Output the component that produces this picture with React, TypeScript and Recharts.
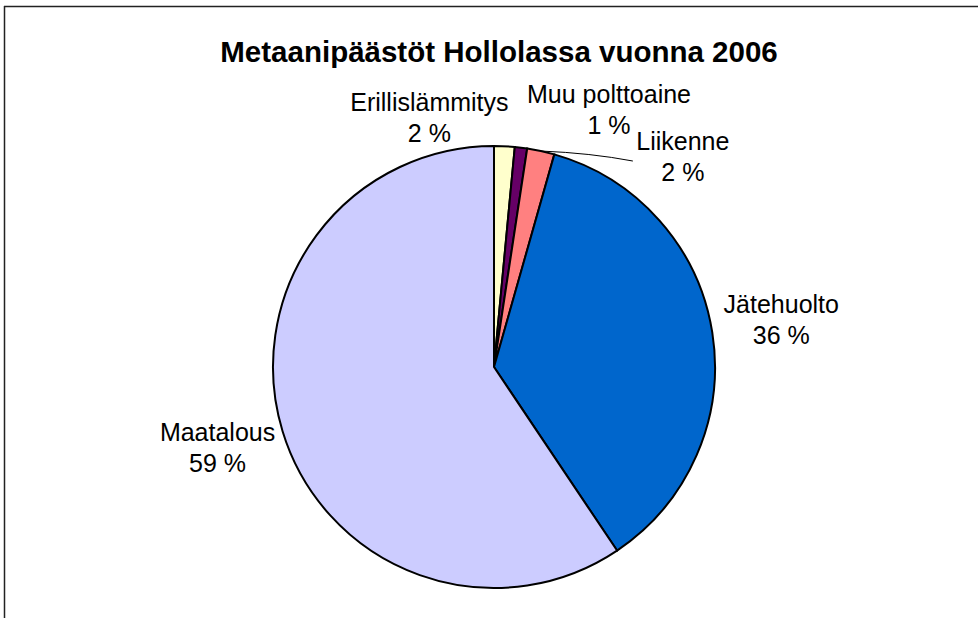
import { Cell, Pie, PieChart } from "recharts";

const categories = ["Erillislämmitys", "Muu polttoaine", "Liikenne", "Jätehuolto", "Maatalous"];
const shares = [1.5, 0.9, 2.0, 36.2, 59.4];
const colors = ["#FFFFCC", "#660066", "#FF8080", "#0066CC", "#CCCCFF"];

// label placement relative to the slice's outer edge point (line 1 baseline)
const labelOffsets = [
  { dx: -75, dy: -35 },
  { dx: 88, dy: -45 },
  { dx: 142, dy: -1 },
  { dx: 69, dy: -19 },
  { dx: -65, dy: 10 },
];

const RAD = Math.PI / 180;
const FONT = "'Liberation Sans', Arial, sans-serif";

function renderLabel(props: any) {
  const { cx, cy, midAngle, outerRadius, index, name, value } = props;
  const ex = cx + outerRadius * Math.cos(-midAngle * RAD);
  const ey = cy + outerRadius * Math.sin(-midAngle * RAD);
  const off = labelOffsets[index];
  const x = ex + off.dx;
  const y = ey + off.dy;
  return (
    <g key={`lbl-${index}`}>
      {index === 2 && (
        <path
          d={`M${ex},${ey} Q${ex + 50},${ey + 2} ${x - 50},${y + 11}`}
          stroke="#000"
          strokeWidth={1}
          fill="none"
        />
      )}
      <text x={x} y={y} textAnchor="middle" fontFamily={FONT} fontSize={25} fill="#000">
        {name}
      </text>
      <text x={x} y={y + 31} textAnchor="middle" fontFamily={FONT} fontSize={25} fill="#000">
        {`${Math.round(value)} %`}
      </text>
    </g>
  );
}

export default function App() {
  const data = categories.map((name, i) => ({ name, value: shares[i] }));
  return (
    <div style={{ position: "absolute", left: 0, top: 0, width: 978, height: 618, background: "#fff" }}>
      <svg width={978} height={618} style={{ position: "absolute", left: 0, top: 0 }}>
        <line x1={4} y1={6.5} x2={978} y2={6.5} stroke="#222" strokeWidth={1.5} />
        <line x1={4.5} y1={6} x2={4.5} y2={618} stroke="#222" strokeWidth={1.5} />
        <text x={499} y={62} textAnchor="middle" fontFamily={FONT} fontWeight="bold" fontSize={29.5} fill="#000">
          Metaanipäästöt Hollolassa vuonna 2006
        </text>
      </svg>
      <div style={{ position: "absolute", left: 0, top: 0 }}>
        <PieChart width={978} height={618}>
          <Pie
            data={data}
            dataKey="value"
            nameKey="name"
            cx={489}
            cy={362}
            outerRadius={221}
            startAngle={90}
            endAngle={-270}
            stroke="#000"
            strokeWidth={2}
            label={renderLabel}
            labelLine={false}
            isAnimationActive={false}
          >
            {data.map((d, i) => (
              <Cell key={d.name} fill={colors[i]} />
            ))}
          </Pie>
        </PieChart>
      </div>
    </div>
  );
}
